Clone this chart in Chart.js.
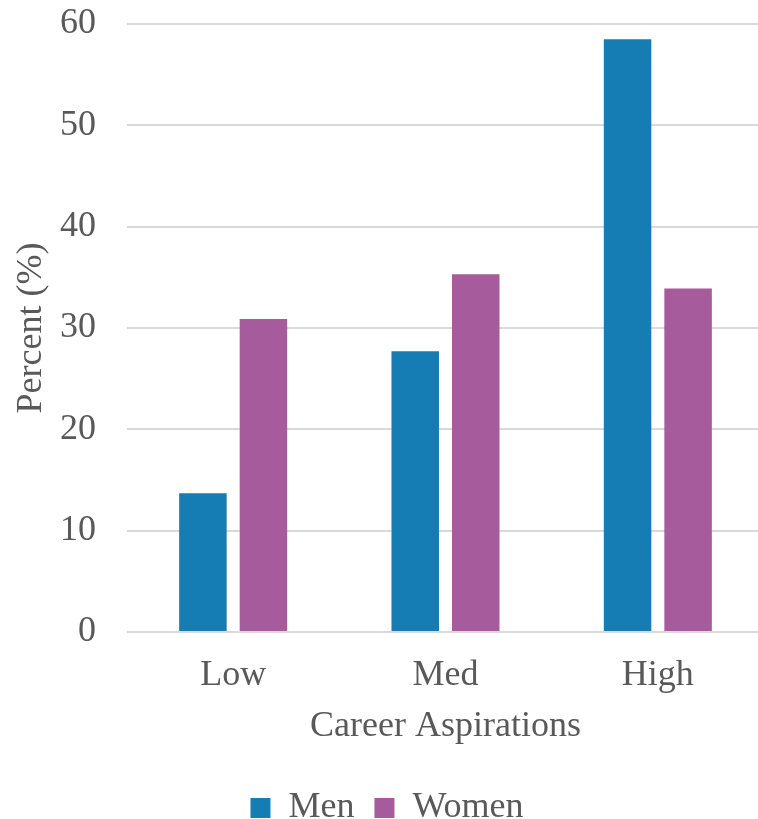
<!DOCTYPE html>
<html>
<head>
<meta charset="utf-8">
<script src="https://cdn.jsdelivr.net/npm/chart.js@4"></script>
<style>
html,body{margin:0;padding:0;background:#fff;overflow:hidden;}
#wrap{width:758px;height:819px;position:relative;overflow:hidden;}
</style>
</head>
<body>
<div id="wrap"><canvas id="c" width="765" height="819"></canvas></div>
<script>
const categories = ["Low", "Med", "High"];
const seriesNames = ["Men", "Women"];
const menValues = [13.7, 27.7, 58.5];
const womenValues = [30.9, 35.3, 33.9];
const yTicks = [0, 10, 20, 30, 40, 50, 60];

const FONT = "'Liberation Serif', 'DejaVu Serif', serif";
const TEXT = "#595959";
const FS = 36;

new Chart(document.getElementById('c'), {
  type: 'bar',
  data: {
    labels: categories,
    datasets: [
      { label: seriesNames[0], data: menValues, backgroundColor: '#157DB3', categoryPercentage: 0.57, barPercentage: 0.785 },
      { label: seriesNames[1], data: womenValues, backgroundColor: '#A55B9C', categoryPercentage: 0.57, barPercentage: 0.785 }
    ]
  },
  options: {
    responsive: false,
    animation: false,
    layout: { padding: { top: 0, right: 1, left: 10, bottom: -17 } },
    plugins: {
      legend: {
        position: 'bottom',
        labels: { font: { family: FONT, size: FS }, color: TEXT, boxWidth: 20, boxHeight: 20, padding: 20 },
      },
      tooltip: { enabled: false }
    },
    scales: {
      x: {
        grid: { display: false, drawTicks: false },
        border: { display: false },
        ticks: { font: { family: FONT, size: FS }, color: TEXT, padding: 22 },
        title: { display: true, text: 'Career Aspirations', font: { family: FONT, size: FS }, color: TEXT, padding: { top: 8, bottom: 22 } },
        afterFit: (axis) => { axis.height = 138; }
      },
      y: {
        min: 0, max: 60,
        afterBuildTicks: (axis) => { axis.ticks = yTicks.map(v => ({ value: v })); },
        grid: { color: '#D9D9D9', lineWidth: 2, drawTicks: false },
        border: { display: false },
        ticks: { font: { family: FONT, size: FS }, color: TEXT, padding: 31 },
        title: { display: true, text: 'Percent (%)', font: { family: FONT, size: FS }, color: TEXT, padding: { top: 0, bottom: 8 } },
        afterFit: (axis) => { axis.width = 117; axis.paddingTop = 24; }
      }
    }
  }
});
</script>
</body>
</html>
